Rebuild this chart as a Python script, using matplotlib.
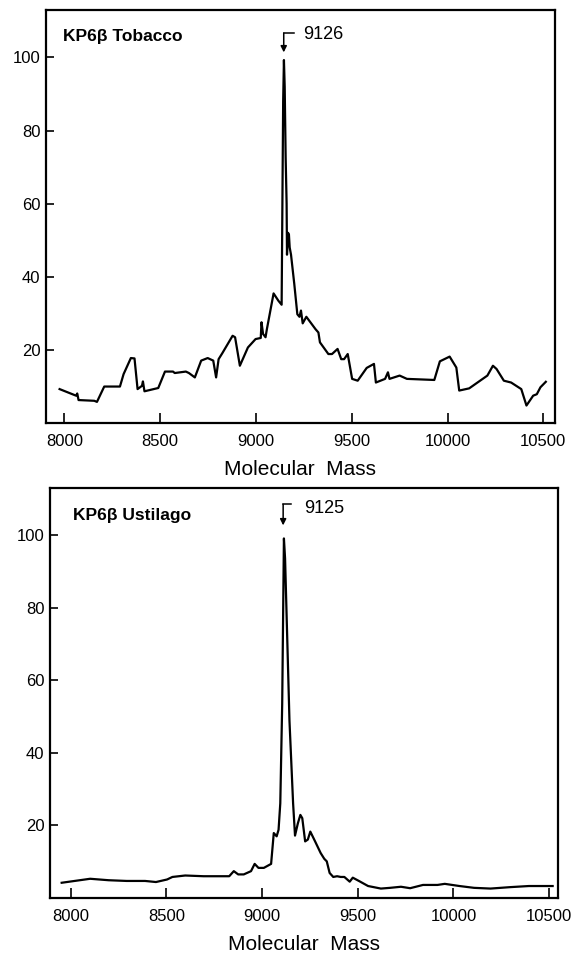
import matplotlib
matplotlib.use("Agg")
import matplotlib.pyplot as plt

plt.rcParams['font.family'] = ['Liberation Sans', 'DejaVu Sans']

# KP6beta Tobacco spectrum (mass, relative intensity)
tob_mass = [7975, 8061, 8067, 8074, 8156, 8170, 8208, 8290, 8309, 8347, 8366, 8382,
            8405, 8410, 8418, 8490, 8525, 8567, 8576, 8634, 8650, 8681, 8714, 8748,
            8777, 8792, 8805, 8824, 8878, 8891, 8916, 8958, 8998, 9025, 9029, 9037,
            9050, 9057, 9092, 9117, 9134, 9138, 9142, 9146, 9150, 9155, 9160, 9162,
            9167, 9172, 9176, 9183, 9200, 9216, 9227, 9235, 9244, 9263, 9311, 9326,
            9334, 9378, 9397, 9426, 9445, 9460, 9479, 9502, 9531, 9578, 9616, 9626,
            9674, 9689, 9697, 9750, 9788, 9931, 9960, 10011, 10046, 10061, 10113,
            10208, 10237, 10256, 10294, 10332, 10385, 10412, 10447, 10466, 10485, 10513]
tob_int = [9.2, 7.4, 8.0, 6.2, 6.0, 5.7, 9.9, 9.9, 13.3, 17.7, 17.6, 9.2,
           10.1, 11.3, 8.6, 9.5, 14.0, 14.0, 13.6, 14.0, 13.6, 12.4, 17.0, 17.7,
           17.0, 12.4, 17.4, 19.0, 23.8, 23.4, 15.6, 20.6, 22.9, 23.2, 27.5, 24.3,
           23.4, 25.6, 35.4, 33.4, 32.3, 60.0, 88.0, 99.3, 92.0, 72.6, 60.0, 46.0,
           52.0, 51.6, 48.0, 46.0, 38.0, 29.7, 29.0, 30.7, 27.2, 29.0, 25.6, 24.7,
           22.0, 18.8, 18.8, 20.2, 17.4, 17.4, 18.8, 12.0, 11.5, 15.0, 16.1, 11.0,
           12.0, 13.8, 12.0, 12.9, 12.0, 11.7, 16.8, 18.1, 15.1, 8.8, 9.4,
           12.9, 15.6, 14.7, 11.5, 11.0, 9.2, 4.7, 7.4, 7.8, 9.7, 11.2]

# KP6beta Ustilago spectrum
ust_mass = [7952, 8006, 8101, 8197, 8292, 8388, 8445, 8503, 8531, 8598, 8694, 8770,
            8828, 8852, 8875, 8904, 8942, 8961, 8981, 9009, 9047, 9061, 9076, 9086,
            9095, 9105, 9114, 9120, 9143, 9162, 9172, 9187, 9200, 9210, 9225, 9239,
            9252, 9277, 9306, 9325, 9338, 9353, 9372, 9392, 9411, 9430, 9458, 9474,
            9506, 9554, 9621, 9669, 9726, 9774, 9841, 9917, 9955, 10032, 10108,
            10194, 10299, 10395, 10519]
ust_int = [4.2, 4.6, 5.3, 4.9, 4.7, 4.7, 4.4, 5.1, 5.8, 6.2, 6.0, 6.0,
           6.0, 7.4, 6.5, 6.5, 7.4, 9.4, 8.3, 8.3, 9.4, 17.9, 17.0, 18.8,
           26.1, 53.5, 99.1, 93.6, 48.9, 26.1, 17.2, 20.6, 22.9, 22.0, 15.6, 16.1,
           18.3, 15.6, 12.4, 10.8, 10.1, 6.9, 5.8, 6.0, 5.8, 5.8, 4.5, 5.6,
           4.7, 3.3, 2.6, 2.8, 3.1, 2.7, 3.6, 3.6, 3.9, 3.3, 2.8,
           2.6, 3.0, 3.3, 3.3]

xticks = [8000, 8500, 9000, 9500, 10000, 10500]
yticks = [20, 40, 60, 80, 100]

panels = [
    # rect, mass, intensity, title, title pos, peak label, label pos, arrow corner, tail x, tip y, xlim
    ([46/571, 1-422.7/957, 509/571, 412.7/957], tob_mass, tob_int, 'KP6\u03b2 Tobacco',
     (0.033, 0.935), '9126', (9244, 106.4), (9145, 106.7), 9197, 101.4, (7904, 10561)),
    ([50/571, 1-898/957, 508/571, 410/957], ust_mass, ust_int, 'KP6\u03b2 Ustilago',
     (0.045, 0.934), '9125', (9219, 107.3), (9110, 108.5), 9152, 102.7, (7891, 10547)),
]

fig = plt.figure(figsize=(5.71, 9.57), dpi=100)
for rect, mx, my, title, tpos, lab, lpos, corner, tail, tip, xl in panels:
    ax = fig.add_axes(rect)
    ax.plot(mx, my, color='black', lw=1.6)
    ax.set_xlim(*xl)
    ax.set_ylim(0, 113)
    ax.set_xticks(xticks)
    ax.set_yticks(yticks)
    ax.tick_params(axis='x', direction='in', length=7, width=1.2, pad=8, labelsize=12)
    ax.tick_params(axis='y', direction='in', length=6, width=1.2, pad=4, labelsize=12)
    for s in ax.spines.values():
        s.set_linewidth(1.6)
    ax.set_xlabel('Molecular  Mass', fontsize=15, labelpad=8)
    ax.text(tpos[0], tpos[1], title, transform=ax.transAxes, fontsize=12.5,
            fontweight='bold', va='center', ha='left')
    # peak label with bent arrow
    ax.plot([tail, corner[0]], [corner[1], corner[1]], color='black', lw=1.1)
    ax.annotate('', xy=(corner[0], tip), xytext=corner,
                arrowprops=dict(arrowstyle='-|>', color='black', lw=1.1,
                                mutation_scale=9, shrinkA=0, shrinkB=0))
    ax.text(lpos[0], lpos[1], lab, fontsize=13, va='center', ha='left')

fig.savefig('out.png', dpi=100, facecolor='white')
